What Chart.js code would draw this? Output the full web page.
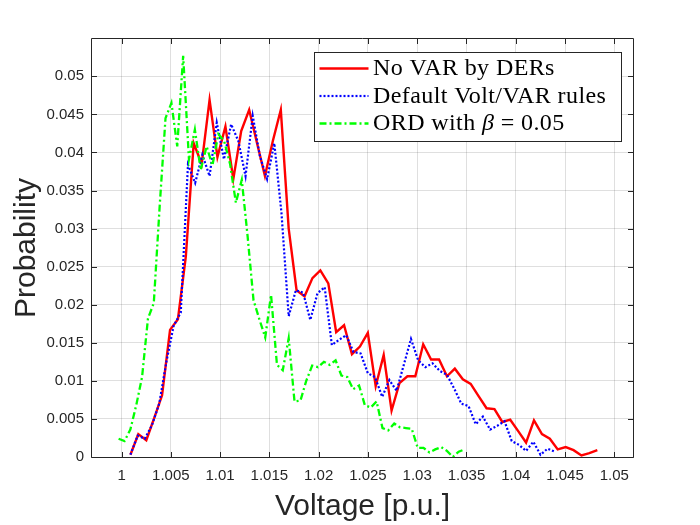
<!DOCTYPE html>
<html>
<head>
<meta charset="utf-8">
<script src="https://cdn.jsdelivr.net/npm/chart.js@4.4.1/dist/chart.umd.min.js"></script>
<style>
html, body { margin: 0; padding: 0; background: #fff; }
</style>
</head>
<body>
<canvas id="volt" width="700" height="525"></canvas>
<script>
// voltage (p.u.) and probability per curve
var redVolts = [1.00090, 1.00170, 1.00251, 1.00331, 1.00411, 1.00492, 1.00572, 1.00652, 1.00732, 1.00813,
    1.00893, 1.00973, 1.01054, 1.01134, 1.01214, 1.01295, 1.01375, 1.01455, 1.01535, 1.01616,
    1.01696, 1.01776, 1.01857, 1.01937, 1.02017, 1.02098, 1.02178, 1.02258, 1.02338, 1.02419,
    1.02499, 1.02579, 1.02660, 1.02740, 1.02820, 1.02901, 1.02981, 1.03061, 1.03141, 1.03222,
    1.03302, 1.03382, 1.03463, 1.03543, 1.03623, 1.03704, 1.03784, 1.03864, 1.03944, 1.04025,
    1.04105, 1.04185, 1.04266, 1.04346, 1.04426, 1.04507, 1.04587, 1.04667, 1.04747, 1.04828];
var redProb = [0.0003, 0.0030, 0.0022, 0.0051, 0.0081, 0.0167, 0.0181, 0.0263, 0.0412, 0.0385,
    0.0469, 0.0394, 0.0434, 0.0365, 0.0428, 0.0456, 0.0412, 0.0369, 0.0415, 0.0456,
    0.0300, 0.0219, 0.0211, 0.0235, 0.0245, 0.0228, 0.0164, 0.0173, 0.0135, 0.0145,
    0.0163, 0.0093, 0.0134, 0.0061, 0.0097, 0.0106, 0.0106, 0.0148, 0.0128, 0.0128,
    0.0106, 0.0116, 0.0102, 0.0096, 0.0080, 0.0064, 0.0063, 0.0046, 0.0049, 0.0034,
    0.0019, 0.0048, 0.0030, 0.0024, 0.0010, 0.0013, 0.0009, 0.0002, 0.0005, 0.0009];

var blueVolts = [1.00090, 1.00163, 1.00236, 1.00309, 1.00382, 1.00455, 1.00528, 1.00601, 1.00674, 1.00747,
    1.00820, 1.00893, 1.00966, 1.01039, 1.01112, 1.01185, 1.01258, 1.01331, 1.01404, 1.01477,
    1.01550, 1.01623, 1.01696, 1.01769, 1.01842, 1.01915, 1.01988, 1.02061, 1.02134, 1.02207,
    1.02280, 1.02353, 1.02426, 1.02499, 1.02572, 1.02645, 1.02718, 1.02791, 1.02864, 1.02937,
    1.03010, 1.03083, 1.03156, 1.03229, 1.03302, 1.03375, 1.03448, 1.03521, 1.03594, 1.03667,
    1.03740, 1.03813, 1.03886, 1.03959, 1.04032, 1.04105, 1.04178, 1.04251, 1.04324, 1.04397];
var blueProb = [0.0003, 0.0028, 0.0024, 0.0042, 0.0070, 0.0125, 0.0172, 0.0190, 0.0384, 0.0360,
    0.0397, 0.0369, 0.0439, 0.0391, 0.0437, 0.0415, 0.0369, 0.0448, 0.0395, 0.0365,
    0.0412, 0.0320, 0.0185, 0.0219, 0.0216, 0.0180, 0.0215, 0.0223, 0.0147, 0.0154,
    0.0160, 0.0138, 0.0136, 0.0110, 0.0105, 0.0079, 0.0101, 0.0087, 0.0121, 0.0155,
    0.0127, 0.0118, 0.0123, 0.0113, 0.0108, 0.0090, 0.0070, 0.0067, 0.0043, 0.0053,
    0.0036, 0.0041, 0.0047, 0.0021, 0.0016, 0.0008, 0.0020, 0.0003, 0.0011, 0.0007];

var greenVolts = [0.99970, 1.00030, 1.00089, 1.00149, 1.00208, 1.00268, 1.00327, 1.00387, 1.00446, 1.00506,
    1.00565, 1.00625, 1.00684, 1.00744, 1.00803, 1.00863, 1.00922, 1.00982, 1.01041, 1.01101,
    1.01160, 1.01220, 1.01279, 1.01339, 1.01398, 1.01458, 1.01517, 1.01577, 1.01636, 1.01696,
    1.01755, 1.01815, 1.01874, 1.01934, 1.01993, 1.02053, 1.02112, 1.02172, 1.02231, 1.02291,
    1.02350, 1.02410, 1.02469, 1.02529, 1.02588, 1.02648, 1.02707, 1.02767, 1.02826, 1.02886,
    1.02945, 1.03005, 1.03064, 1.03124, 1.03183, 1.03243, 1.03302, 1.03362, 1.03421, 1.03481];
var greenProb = [0.0024, 0.0021, 0.0036, 0.0068, 0.0105, 0.0182, 0.0202, 0.0330, 0.0445, 0.0465,
    0.0408, 0.0527, 0.0391, 0.0430, 0.0377, 0.0408, 0.0383, 0.0424, 0.0415, 0.0385,
    0.0334, 0.0364, 0.0290, 0.0206, 0.0181, 0.0157, 0.0213, 0.0121, 0.0114, 0.0156,
    0.0073, 0.0074, 0.0100, 0.0120, 0.0118, 0.0125, 0.0121, 0.0127, 0.0107, 0.0105,
    0.0089, 0.0094, 0.0068, 0.0065, 0.0073, 0.0038, 0.0035, 0.0044, 0.0039, 0.0038,
    0.0037, 0.0012, 0.0012, 0.0006, 0.0010, 0.0013, 0.0008, 0.0000, 0.0007, 0.0010];

var xTicks = [1, 1.005, 1.01, 1.015, 1.02, 1.025, 1.03, 1.035, 1.04, 1.045, 1.05];
var xTickLabels = ["1", "1.005", "1.01", "1.015", "1.02", "1.025", "1.03", "1.035", "1.04", "1.045", "1.05"];
var yTicks = [0, 0.005, 0.01, 0.015, 0.02, 0.025, 0.03, 0.035, 0.04, 0.045, 0.05];
var yTickLabels = ["0", "0.005", "0.01", "0.015", "0.02", "0.025", "0.03", "0.035", "0.04", "0.045", "0.05"];

var seriesNames = ["No VAR by DERs", "Default Volt/VAR rules", "ORD with β = 0.05"];

var axisInk = "#262626";

function toPoints(xs, ys) {
    return xs.map(function (x, i) { return {x: x, y: ys[i]}; });
}

// MATLAB-style box: frame on all four sides with inward tick marks
var framePlugin = {
    id: "frame",
    afterDatasetsDraw: function (chart) {
        var ctx = chart.ctx, a = chart.chartArea;
        var xs = chart.scales.x, ys = chart.scales.y;
        var L = Math.round(a.left) - 0.5, R = Math.round(a.right) + 0.5;
        var T = Math.round(a.top) - 0.5, B = Math.round(a.bottom) + 0.5;
        var len = 5.5;
        ctx.save();
        ctx.strokeStyle = axisInk;
        ctx.lineWidth = 1;
        ctx.beginPath();
        ctx.rect(L, T, R - L, B - T);
        xTicks.forEach(function (v) {
            var px = Math.round(xs.getPixelForValue(v)) + 0.5;
            ctx.moveTo(px, B); ctx.lineTo(px, B - len);
            ctx.moveTo(px, T); ctx.lineTo(px, T + len);
        });
        yTicks.forEach(function (v) {
            var py = Math.round(ys.getPixelForValue(v)) + 0.5;
            ctx.moveTo(L, py); ctx.lineTo(L + len, py);
            ctx.moveTo(R, py); ctx.lineTo(R - len, py);
        });
        ctx.stroke();
        ctx.restore();
    }
};

// boxed legend in the top right, LaTeX-like serif text
var legendPlugin = {
    id: "texLegend",
    afterDraw: function (chart) {
        var ctx = chart.ctx, a = chart.chartArea;
        var bx = Math.round(a.right - 319) + 0.5, by = Math.round(a.top + 13) + 0.5;
        var bw = 307, bh = 89, row = 27.5;
        ctx.save();
        ctx.fillStyle = "#fff";
        ctx.fillRect(bx, by, bw, bh);
        ctx.strokeStyle = axisInk;
        ctx.lineWidth = 1;
        ctx.strokeRect(bx, by, bw, bh);
        chart.data.datasets.forEach(function (ds, i) {
            var base = by + 22.5 + i * row;
            ctx.save();
            ctx.strokeStyle = ds.borderColor;
            ctx.lineWidth = ds.borderWidth;
            ctx.setLineDash(ds.borderDash || []);
            ctx.beginPath();
            ctx.moveTo(bx + 5, base - 6.5);
            ctx.lineTo(bx + 54, base - 6.5);
            ctx.stroke();
            ctx.restore();

            ctx.fillStyle = "#000";
            ctx.textBaseline = "alphabetic";
            ctx.textAlign = "left";
            ctx.letterSpacing = "0.4px";
            var tx = bx + 58.5;
            var label = ds.label;
            var k = label.indexOf("β");
            ctx.font = "24px 'Liberation Serif'";
            if (k < 0) {
                ctx.fillText(label, tx, base);
            } else {
                var pre = label.slice(0, k), post = label.slice(k + 1);
                ctx.fillText(pre, tx, base);
                tx += ctx.measureText(pre).width;
                ctx.font = "italic 24px 'Liberation Serif'";
                ctx.fillText("β", tx, base);
                tx += ctx.measureText("β").width;
                ctx.font = "24px 'Liberation Serif'";
                ctx.fillText(post, tx, base);
            }
        });
        ctx.restore();
    }
};

var config = {
    type: "line",
    data: {
        datasets: [
            {label: seriesNames[0], data: toPoints(redVolts, redProb),
             borderColor: "#ff0000", borderWidth: 2.4, order: 3},
            {label: seriesNames[1], data: toPoints(blueVolts, blueProb),
             borderColor: "#0000ff", borderWidth: 2.2, borderDash: [2, 2], order: 2},
            {label: seriesNames[2], data: toPoints(greenVolts, greenProb),
             borderColor: "#00ff00", borderWidth: 2.3, borderDash: [7, 3, 2, 3], order: 1}
        ]
    },
    options: {
        responsive: false,
        animation: false,
        devicePixelRatio: 1,
        parsing: false,
        elements: {
            point: {radius: 0},
            line: {tension: 0, fill: false, borderCapStyle: "butt", borderJoinStyle: "miter"}
        },
        layout: {padding: {top: 39, right: 67, left: 0, bottom: 0}},
        plugins: {legend: {display: false}, tooltip: {enabled: false}},
        scales: {
            x: {
                type: "linear",
                min: 0.997,
                max: 1.0519,
                afterFit: function (s) { s.height = 68; },
                afterBuildTicks: function (s) {
                    s.ticks = xTicks.map(function (v) { return {value: v}; });
                },
                grid: {color: "rgba(38,38,38,0.15)", drawTicks: false},
                border: {display: false},
                ticks: {
                    autoSkip: false, maxRotation: 0, padding: 10, color: axisInk,
                    font: {family: "'Liberation Sans'", size: 15},
                    callback: function (v, i) { return xTickLabels[i]; }
                },
                title: {
                    display: true, text: "Voltage [p.u.]", color: axisInk,
                    font: {family: "'Liberation Sans'", size: 30}, padding: {top: 0, bottom: 0}
                }
            },
            y: {
                type: "linear",
                min: 0,
                max: 0.0549,
                afterFit: function (s) { s.width = 92; },
                afterBuildTicks: function (s) {
                    s.ticks = yTicks.map(function (v) { return {value: v}; });
                },
                grid: {color: "rgba(38,38,38,0.15)", drawTicks: false},
                border: {display: false},
                ticks: {
                    padding: 8, color: axisInk,
                    font: {family: "'Liberation Sans'", size: 15},
                    callback: function (v, i) { return yTickLabels[i]; }
                },
                title: {
                    display: true, text: "Probability", color: axisInk,
                    font: {family: "'Liberation Sans'", size: 30}, padding: {top: 9, bottom: 0}
                }
            }
        }
    },
    plugins: [framePlugin, legendPlugin]
};

var voltChart = new Chart(document.getElementById("volt"), config);
</script>
</body>
</html>
